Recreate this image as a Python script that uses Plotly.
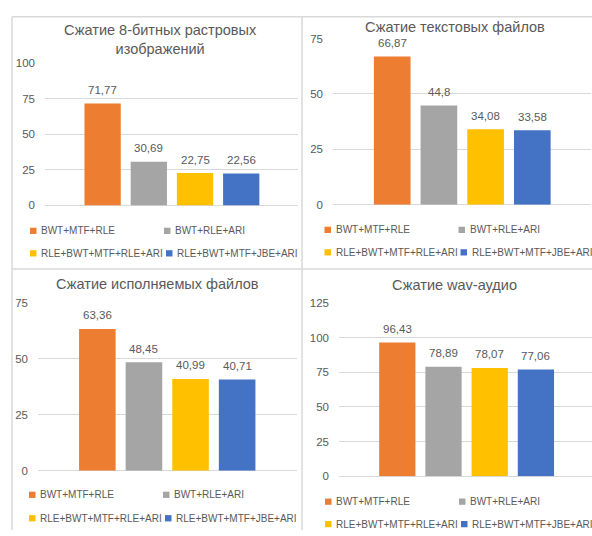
import plotly.graph_objects as go

# ---------------- data ----------------
series_names = ["BWT+MTF+RLE", "BWT+RLE+ARI", "RLE+BWT+MTF+RLE+ARI", "RLE+BWT+MTF+JBE+ARI"]
series_colors = ["#ED7D31", "#A5A5A5", "#FFC000", "#4472C4"]

panel_titles = [
    "Сжатие 8-битных растровых<br>изображений",
    "Сжатие текстовых файлов",
    "Сжатие исполняемых файлов",
    "Сжатие wav-аудио",
]
images_8bit = [71.77, 30.69, 22.75, 22.56]
text_files = [66.87, 44.8, 34.08, 33.58]
exe_files = [63.36, 48.45, 40.99, 40.71]
wav_audio = [96.43, 78.89, 78.07, 77.06]
panel_values = [images_8bit, text_files, exe_files, wav_audio]
y_max = [100, 75, 75, 125]
y_tick_step = 25

# ---------------- layout geometry (pixels) ----------------
W, H = 592, 536
FONT = "Liberation Sans"
TXT = "#595959"
GRID = "#D9D9D9"

# plot area [left, right, top, bottom] and x range in category units
panels = [
    dict(area=(45, 298, 58.7, 204.0), xr=(-1.247, 4.229), title=(160, 34), legend=(40, 230, 253)),
    dict(area=(333, 591, 33.3, 203.3), xr=(-1.268, 4.257), title=(455, 21), legend=(334.5, 229, 252)),
    dict(area=(38, 297, 303.7, 475.3), xr=(-1.274, 4.285), title=(157, 284), legend=(39, 500, 524)),
    dict(area=(339, 592, 303.7, 481.0), xr=(-1.262, 4.214), title=(455, 285), legend=(335, 507, 530)),
]


def xp(px):
    return px / W


def yp(py):
    return 1 - py / H


def fmt(v):
    return f"{v:g}".replace(".", ",")


fig = go.Figure()
annotations = []
shapes = []

for i, (p, vals, ttl, ym) in enumerate(zip(panels, panel_values, panel_titles, y_max)):
    n = "" if i == 0 else str(i + 1)
    xa, ya = "x" + n, "y" + n
    fig.add_trace(go.Bar(
        x=series_names, y=vals,
        marker=dict(color=series_colors, line=dict(width=0)),
        xaxis=xa, yaxis=ya, showlegend=False, hoverinfo="x+y",
    ))
    # data labels anchored to each bar's value
    for name, v in zip(series_names, vals):
        annotations.append(dict(
            text=fmt(v), x=name, y=v, xref=xa, yref=ya,
            xanchor="center", yanchor="bottom", yshift=5.5, showarrow=False,
            font=dict(family=FONT, size=11.5, color=TXT),
        ))
    l, r, t, b = p["area"]
    fig.layout["xaxis" + n] = dict(
        domain=[xp(l), xp(r)], range=list(p["xr"]), anchor=ya,
        type="category", showticklabels=False, showgrid=False, zeroline=False,
        showline=False, ticks="", fixedrange=True,
    )
    fig.layout["yaxis" + n] = dict(
        domain=[yp(b), yp(t)], range=[0, ym], anchor=xa, dtick=y_tick_step, tick0=0,
        showgrid=True, gridcolor=GRID, gridwidth=1,
        zeroline=True, zerolinecolor=GRID, zerolinewidth=1,
        showline=False, ticks="", ticklabelstandoff=9,
        tickfont=dict(family=FONT, size=11.5, color=TXT), fixedrange=True,
    )
    tx, ty = p["title"]
    annotations.append(dict(
        text=ttl, x=xp(tx), y=yp(ty), xref="paper", yref="paper",
        xanchor="center", yanchor="middle", showarrow=False,
        font=dict(family=FONT, size=14.5, color=TXT),
    ))
    # custom legend (two rows of two entries)
    lx, r1, r2 = p["legend"]
    offsets = [(0, r1), (134, r1), (0, r2), (136, r2)]
    for name, col, (dx, ry) in zip(series_names, series_colors, offsets):
        tx0 = lx + dx
        shapes.append(dict(
            type="rect", xref="paper", yref="paper",
            x0=xp(tx0 - 10), x1=xp(tx0 - 3.5), y0=yp(ry + 3.2), y1=yp(ry - 3.2),
            fillcolor=col, line=dict(width=0),
        ))
        annotations.append(dict(
            text=name, x=xp(tx0 - 1), y=yp(ry), xref="paper", yref="paper",
            xanchor="left", yanchor="middle", showarrow=False,
            font=dict(family=FONT, size=10, color=TXT),
        ))

# panel borders
BORDER = "#D9D9D9"
for (x0, y0, x1, y1) in [(12, 11, 12, H), (302, 11, 302, H), (12, 11, W, 11), (12, 269, W, 269)]:
    shapes.append(dict(
        type="line", xref="paper", yref="paper",
        x0=xp(x0), y0=yp(y0), x1=xp(x1), y1=yp(y1),
        line=dict(color=BORDER, width=1.5),
    ))

fig.update_layout(
    width=W, height=H, margin=dict(l=0, r=0, t=0, b=0),
    paper_bgcolor="white", plot_bgcolor="white",
    bargap=0.215, showlegend=False,
    annotations=annotations, shapes=shapes,
    font=dict(family=FONT, color=TXT),
)

fig.write_html("out.html")
